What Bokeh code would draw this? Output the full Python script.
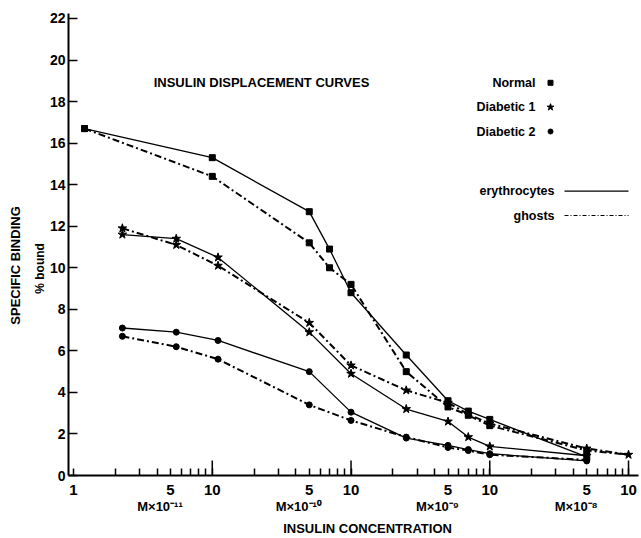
import math
from bokeh.plotting import figure
from bokeh.models import Range1d, FixedTicker, Label, LogAxis, LinearAxis, LinearScale
from bokeh.embed import file_html
from bokeh.resources import INLINE

# Insulin concentration, in units of 1e-11 M
conc_normal = [1.2, 10, 50, 70, 100, 250, 500, 700, 1000, 5000]
conc_normal_ghosts = [1.2, 10, 50, 70, 100, 250, 500, 700, 1000, 5000, 10000]
conc_diabetic = [2.25, 5.5, 11, 50, 100, 250, 500, 700, 1000, 5000]
conc_diabetic_ghosts = [2.25, 5.5, 11, 50, 100, 250, 500, 700, 1000, 5000, 10000]

# Specific binding, % bound
normal_erythrocytes = [16.7, 15.3, 12.7, 10.9, 8.8, 5.8, 3.6, 3.1, 2.7, 0.9]
normal_ghosts = [16.7, 14.4, 11.2, 10.0, 9.2, 5.0, 3.3, 2.9, 2.4, 1.2, 1.0]
diabetic1_erythrocytes = [11.6, 11.4, 10.5, 6.9, 4.9, 3.2, 2.6, 1.85, 1.4, 0.95]
diabetic1_ghosts = [11.9, 11.1, 10.1, 7.35, 5.3, 4.1, 3.5, 2.95, 2.5, 1.3, 1.0]
diabetic2_erythrocytes = [7.1, 6.9, 6.5, 5.0, 3.05, 1.8, 1.45, 1.25, 1.05, 0.7]
diabetic2_ghosts = [6.7, 6.2, 5.6, 3.4, 2.65, 1.85, 1.35, 1.2, 1.0, 0.75]

x_major_ticks = [1, 5, 10, 50, 100, 500, 1000, 5000, 10000]
x_major_labels = ["1", "5", "10", "5", "10", "5", "10", "5", "10"]
x_minor_ticks = [m * 10 ** k for k in range(4) for m in (2, 3, 4, 6, 7, 8, 9)]
decade_ticks = [10, 100, 1000, 10000]
decade_labels = ["M×10⁻¹¹", "M×10⁻¹⁰", "M×10⁻⁹", "M×10⁻⁸"]
y_ticks = list(range(0, 23, 2))

series_names = ["Normal", "Diabetic 1", "Diabetic 2"]
cell_names = ["erythrocytes", "ghosts"]
x_title = "INSULIN CONCENTRATION"
y_title = "SPECIFIC BINDING"
y_subtitle = "% bound"
chart_title = "INSULIN DISPLACEMENT CURVES"

FONT = "Liberation Sans"
W, H = 641, 538
BL, BR, BT, BB = 68, 3, 13, 63
FW, FH = W - BL - BR, H - BT - BB

p = figure(width=W, height=H, x_axis_type="log",
           x_range=Range1d(0.92, 11800), y_range=Range1d(0, 22.24),
           output_backend="svg", toolbar_location=None,
           min_border_left=BL, min_border_right=BR,
           min_border_top=BT, min_border_bottom=BB)
p.extra_x_ranges = {"px": Range1d(0, FW)}
p.extra_y_ranges = {"px": Range1d(0, FH)}
p.extra_x_scales = {"px": LinearScale()}
p.extra_y_scales = {"px": LinearScale()}
p.outline_line_color = None
p.grid.visible = False
p.background_fill_color = "white"
p.border_fill_color = "white"


def style_labels(ax, size):
    ax.major_label_text_font = FONT
    ax.major_label_text_font_style = "bold"
    ax.major_label_text_font_size = size
    ax.major_label_text_color = "black"


def hide_lines(ax):
    ax.axis_line_color = None
    ax.major_tick_line_color = None
    ax.minor_tick_line_color = None
    ax.major_tick_in = 0
    ax.major_tick_out = 0


# main x axis
xa = p.xaxis[0]
xa.ticker = FixedTicker(ticks=x_major_ticks, minor_ticks=x_minor_ticks)
xa.major_label_overrides = {t: l for t, l in zip(x_major_ticks, x_major_labels)}
xa.axis_line_width = 2
xa.axis_line_color = "black"
xa.major_tick_in = 7
xa.major_tick_out = 0
xa.minor_tick_in = 7
xa.minor_tick_out = 0
xa.major_tick_line_width = 1.5
xa.minor_tick_line_width = 1.5
xa.major_tick_line_color = "black"
xa.minor_tick_line_color = "black"
xa.major_label_standoff = 9
style_labels(xa, "15px")

# decade multipliers (second axis below)
mult_pos = [d * 0.42 for d in decade_ticks]
xa2 = LogAxis(ticker=FixedTicker(ticks=mult_pos, minor_ticks=[]),
              major_label_overrides={t: l for t, l in zip(mult_pos, decade_labels)})
hide_lines(xa2)
xa2.major_label_standoff = 1
style_labels(xa2, "13px")
p.add_layout(xa2, "below")

# x title (third axis below)
title_pos = [131.5]
xa3 = LogAxis(ticker=FixedTicker(ticks=title_pos, minor_ticks=[]),
              major_label_overrides={title_pos[0]: x_title})
hide_lines(xa3)
xa3.major_label_standoff = 4
style_labels(xa3, "13px")
p.add_layout(xa3, "below")

# main y axis (ticks point inwards)
ya = p.yaxis[0]
ya.ticker = FixedTicker(ticks=y_ticks, minor_ticks=[])
ya.axis_line_width = 2
ya.axis_line_color = "black"
ya.major_tick_in = 9
ya.major_tick_out = 0
ya.major_tick_line_width = 1.5
ya.major_tick_line_color = "black"
ya.minor_tick_line_color = None
ya.major_label_standoff = 3
style_labels(ya, "14px")

# y titles as extra left axes
sub_pos = [9.97]
ya2 = LinearAxis(ticker=FixedTicker(ticks=sub_pos, minor_ticks=[]),
                 major_label_overrides={sub_pos[0]: y_subtitle},
                 major_label_orientation="vertical")
hide_lines(ya2)
ya2.major_label_standoff = -1
style_labels(ya2, "12px")
p.add_layout(ya2, "left")

ttl_pos = [10.11]
ya3 = LinearAxis(ticker=FixedTicker(ticks=ttl_pos, minor_ticks=[]),
                 major_label_overrides={ttl_pos[0]: y_title},
                 major_label_orientation="vertical")
hide_lines(ya3)
ya3.major_label_standoff = 7
style_labels(ya3, "13px")
p.add_layout(ya3, "left")

# taller ticks at each decade
p.segment(x0=decade_ticks, y0=[0] * 4, x1=decade_ticks, y1=[15] * 4,
          y_range_name="px", line_color="black", line_width=1.5)

solid = dict(line_color="black", line_width=1.3)
dashdot = dict(line_color="black", line_width=2, line_dash="7 3 2 3")

p.line(conc_normal, normal_erythrocytes, **solid)
p.line(conc_normal_ghosts, normal_ghosts, **dashdot)
p.line(conc_diabetic, diabetic1_erythrocytes, **solid)
p.line(conc_diabetic_ghosts, diabetic1_ghosts, **dashdot)
p.line(conc_diabetic, diabetic2_erythrocytes, **solid)
p.line(conc_diabetic, diabetic2_ghosts, **dashdot)

sq = dict(marker="square", size=6, color="black")
st = dict(marker="star", size=9, color="black")
ci = dict(marker="circle", size=6, color="black")
p.scatter(conc_normal, normal_erythrocytes, **sq)
p.scatter(conc_normal_ghosts[:-1], normal_ghosts[:-1], **sq)
p.scatter(conc_diabetic, diabetic1_erythrocytes, **st)
p.scatter(conc_diabetic_ghosts, diabetic1_ghosts, **st)
p.scatter(conc_diabetic, diabetic2_erythrocytes, **ci)
p.scatter(conc_diabetic, diabetic2_ghosts, **ci)


def lab(text, x, y, size="13px", align="center"):
    p.add_layout(Label(x=x, y=y, text=text, text_font=FONT, text_font_style="bold",
                       text_font_size=size, text_align=align, text_baseline="middle",
                       text_color="black", x_range_name="px", y_range_name="px"))


# chart title
lab(chart_title, 193, 393.5, size="13px")

# legend (text on the left, symbol on the right)
leg_y = [392.7, 368.3, 344.0]
for name, yy in zip(series_names, leg_y):
    lab(name, 467, yy, size="12.5px", align="right")
p.scatter(x=[482], y=[leg_y[0]], x_range_name="px", y_range_name="px",
          marker="square", size=5, color="black")
p.scatter(x=[482], y=[leg_y[1]], x_range_name="px", y_range_name="px",
          marker="star", size=7, color="black")
p.scatter(x=[482], y=[leg_y[2]], x_range_name="px", y_range_name="px",
          marker="circle", size=5, color="black")

leg2_y = [284.3, 260.0]
for name, yy in zip(cell_names, leg2_y):
    lab(name, 486, yy, size="12.5px", align="right")
p.line(x=[496, 560], y=[leg2_y[0]] * 2, x_range_name="px", y_range_name="px",
       line_color="black", line_width=1.2)
p.line(x=[496, 560], y=[leg2_y[1]] * 2, x_range_name="px", y_range_name="px",
       line_color="black", line_width=1.2, line_dash="4 2 1 2")

open("out.html", "w").write(file_html(p, INLINE))
